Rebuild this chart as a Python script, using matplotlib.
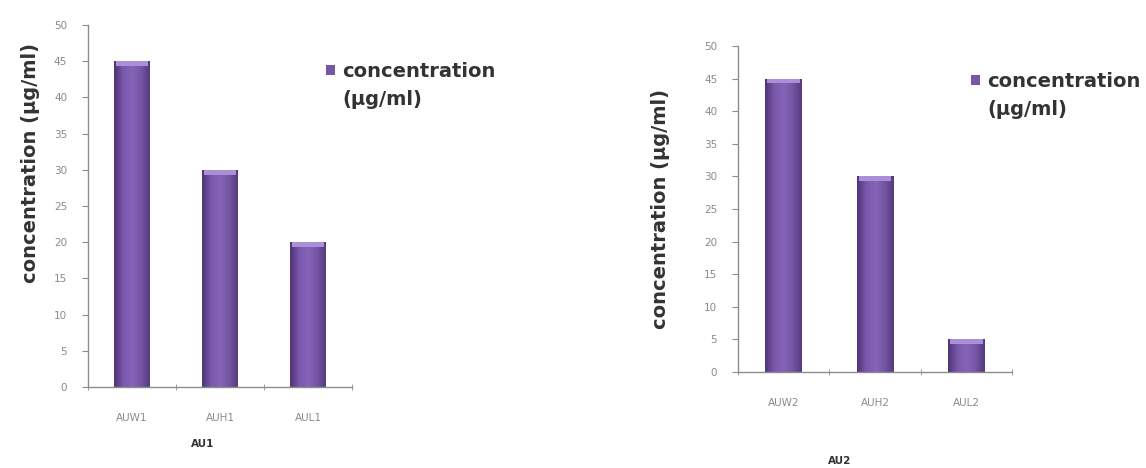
import numpy as np
import matplotlib
matplotlib.use('Agg')
import matplotlib.pyplot as plt
from matplotlib.colors import LinearSegmentedColormap
from matplotlib.patches import Rectangle
from matplotlib.legend_handler import HandlerPatch

labels_au1 = ['AUW1', 'AUH1', 'AUL1']
values_au1 = [45, 30, 20]
labels_au2 = ['AUW2', 'AUH2', 'AUL2']
values_au2 = [45, 30, 5]

y_label = 'concentration (µg/ml)'
legend_label = 'concentration\n(µg/ml)'

axis_grey = '#8c8c8c'
tick_grey = '#8a8a8a'
bar_color = '#7656a6'

bar_cmap = LinearSegmentedColormap.from_list(
    'bar', ['#4f3478', '#7a58ab', '#8663b8', '#7656a6', '#553a80'])


def top_square(legend, orig_handle, xdescent, ydescent, width, height, fontsize):
    # put the legend square next to the first text line
    return Rectangle((-xdescent, -ydescent + 0.82 * fontsize), width, height)


def draw_panel(ax, labels, values, xlabel, legend_pos, ylab_xy, xlab_xy, fig):
    x = np.arange(len(values))
    bars = ax.bar(x, values, width=0.4, color=bar_color, edgecolor='none',
                  zorder=2)
    # shaded look on each bar, clipped to the bar itself
    grad = np.linspace(0, 1, 64).reshape(1, -1)
    for b in bars:
        im = ax.imshow(grad, cmap=bar_cmap, aspect='auto', zorder=2.5,
                       extent=[b.get_x(), b.get_x() + b.get_width(),
                               0, b.get_height()])
        im.set_clip_path(b)
    # light cap on top
    ax.bar(x, [0.7] * len(values), bottom=np.array(values) - 0.7, width=0.36,
           color='#a98fd6', edgecolor='none', zorder=3)

    ax.set_xlim(-0.5, len(values) - 0.5)
    ax.set_ylim(0, 50)
    ax.set_yticks(range(0, 51, 5))
    ax.set_xticks(x)
    ax.set_xticklabels(labels)
    ax.set_xticks(np.arange(-0.5, len(values)), minor=True)
    ax.tick_params(axis='x', which='major', length=0, pad=19,
                   labelsize=7.5, labelcolor=tick_grey)
    ax.tick_params(axis='x', which='minor', length=5, color=axis_grey,
                   direction='inout')
    ax.tick_params(axis='y', length=4, color=axis_grey, pad=11,
                   labelsize=7.5, labelcolor=tick_grey)
    for s in ['top', 'right']:
        ax.spines[s].set_visible(False)
    for s in ['left', 'bottom']:
        ax.spines[s].set_color(axis_grey)
        ax.spines[s].set_linewidth(1.0)

    ax.set_ylabel(y_label, fontsize=14, fontweight='bold', color='#333333')
    ax.yaxis.set_label_coords(*ylab_xy)
    ax.set_xlabel(xlabel, fontsize=7.5, fontweight='bold', color='#333333')
    ax.xaxis.set_label_coords(*xlab_xy)
    handle = bars[0]
    leg = ax.legend([handle], [legend_label], loc='upper left',
                    bbox_to_anchor=legend_pos,
                    bbox_transform=fig.transFigure, frameon=False,
                    handlelength=0.45, handleheight=0.45, handletextpad=0.4,
                    prop={'size': 14, 'weight': 'bold'},
                    labelcolor='#333333',
                    handler_map={handle: HandlerPatch(patch_func=top_square)})
    for t in leg.get_texts():
        t.set_linespacing(1.6)


def main():
    fig = plt.figure(figsize=(11.46, 4.68), dpi=100)
    ax1 = fig.add_axes([0.0768, 0.1731, 0.2304, 0.7735])
    ax2 = fig.add_axes([0.644, 0.2051, 0.2391, 0.6966])

    draw_panel(ax1, labels_au1, values_au1, 'AU1', (0.269, 0.905),
               (-0.182, 0.62), (0.436, -0.144), fig)
    draw_panel(ax2, labels_au2, values_au2, 'AU2', (0.832, 0.884),
               (-0.249, 0.5), (0.372, -0.258), fig)

    fig.savefig('out.png', dpi=100, facecolor='white')


if __name__ == '__main__':
    main()
